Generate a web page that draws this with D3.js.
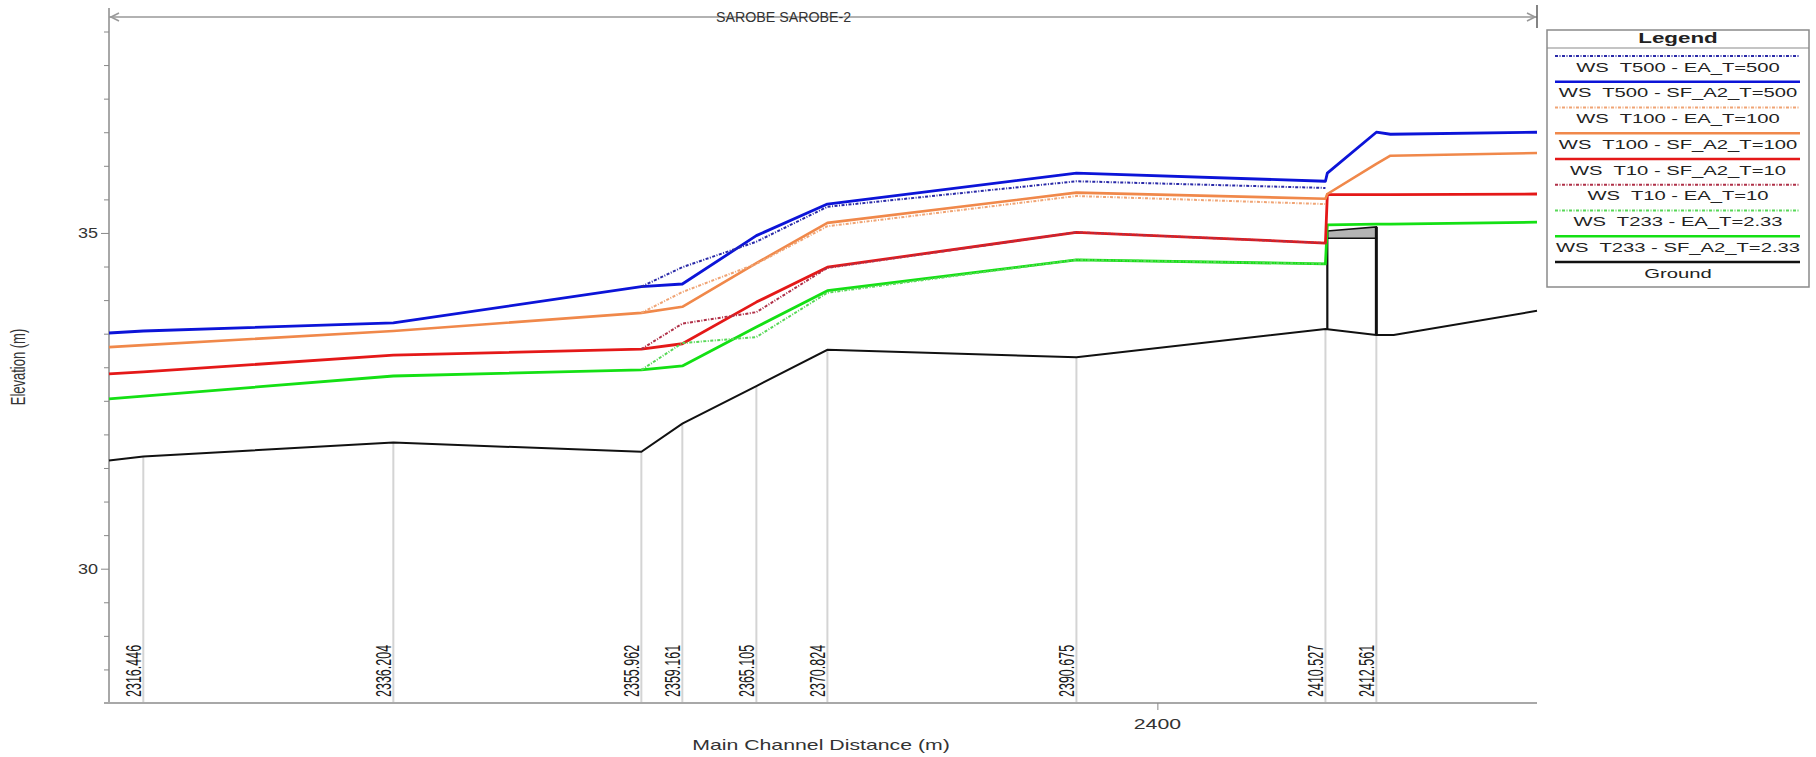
<!DOCTYPE html>
<html>
<head>
<meta charset="utf-8">
<script src="https://cdn.jsdelivr.net/npm/d3@7"></script>
<style>
  body { margin: 0; background: #fff; }
  text { font-family: "Liberation Sans", Arial, sans-serif; white-space: pre; }
</style>
</head>
<body>
<div id="chart"></div>
<script>
// ------------------------------------------------- Data -------------------------------------------------
// river station labels and their main channel distance (m)
const stationLabels = ["2316.446", "2336.204", "2355.962", "2359.161", "2365.105", "2370.824", "2390.675", "2410.527", "2412.561"];
const stationDist = [2319.33, 2339.22, 2358.95, 2362.21, 2368.10, 2373.75, 2393.56, 2413.37, 2417.42];

// ground profile
const groundDist = [2316.6, 2319.33, 2339.22, 2358.95, 2362.21, 2368.10, 2373.75, 2393.56, 2413.37, 2417.42, 2418.8, 2430.2];
const groundElev = [31.61, 31.67, 31.88, 31.74, 32.16, 32.72, 33.26, 33.15, 33.57, 33.48, 33.48, 33.84];

// proposed (SF_A2) water surfaces, full reach
const sfDist = [2316.6, 2319.33, 2339.22, 2358.95, 2362.21, 2368.10, 2373.75, 2393.56, 2413.37, 2413.52, 2417.42, 2418.54, 2430.2];
const sfT500 = [33.51, 33.54, 33.66, 34.20, 34.24, 34.96, 35.43, 35.89, 35.77, 35.89, 36.50, 36.47, 36.50];
const sfT100 = [33.30, 33.33, 33.54, 33.81, 33.90, 34.55, 35.15, 35.60, 35.51, 35.58, 36.03, 36.15, 36.19];
const sfT10  = [32.90, 32.93, 33.18, 33.27, 33.35, 33.97, 34.49, 35.01, 34.85, 35.57, 35.57, 35.57, 35.58];
const sfT233 = [32.53, 32.57, 32.87, 32.96, 33.02, 33.60, 34.14, 34.60, 34.54, 35.12, 35.13, 35.13, 35.16];

// existing (EA) water surfaces, where they differ
const eaDist = [2358.95, 2362.21, 2368.10, 2373.75, 2393.56, 2413.37];
const eaT500 = [34.20, 34.49, 34.87, 35.39, 35.77, 35.67];
const eaT100 = [33.81, 34.12, 34.54, 35.10, 35.55, 35.43];
const eaT10  = [33.27, 33.65, 33.82, 34.48, 35.01, 34.85];
const eaT233 = [32.96, 33.36, 33.45, 34.11, 34.60, 34.54];

// bridge deck
const deckDist = [2413.52, 2417.42];
const deckHigh = [35.03, 35.09];
const deckLow = [34.92, 34.92];

const yTickLabels = [30, 35];
const xTickLabels = [2400];

// ------------------------------------------------- Setup -------------------------------------------------
const W = 1816, H = 757;
const SX = 1.52; // the exported picture is stretched sideways

const svg = d3.select("#chart").append("svg").attr("width", W).attr("height", H);

const x = d3.scaleLinear().domain([2316.6, 2430.2]).range([109, 1537]);
const y = d3.scaleLinear().domain([28, 38.35]).range([703, 8]);

function stretched(g, px, py, str, opts = {}) {
    const t = g.append("text")
        .attr("transform", `translate(${px},${py}) scale(${opts.sx || SX},1)` + (opts.rot ? ` rotate(${opts.rot})` : ""))
        .attr("text-anchor", opts.anchor || "start")
        .style("font-size", (opts.size || 13) + "px")
        .style("font-weight", opts.weight || "normal")
        .attr("fill", opts.fill || "#222")
        .text(str);
    return t;
}

const line = d3.line().x(d => x(d[0])).y(d => y(d[1]));
const zip = (a, b) => a.map((v, i) => [v, b[i]]);

// ------------------------------------------------- Station lines -------------------------------------------------
const gSt = svg.append("g");
stationDist.forEach((d, i) => {
    const gi = groundDist.indexOf(d);
    gSt.append("line")
        .attr("x1", x(d)).attr("x2", x(d))
        .attr("y1", y(groundElev[gi])).attr("y2", y(28))
        .attr("stroke", "#d4d4d4").attr("stroke-width", 2);
    stretched(gSt, x(d) - 2, 697, stationLabels[i], { rot: -90, size: 12.5, sx: 1.72, fill: "#1a1a1a" });
});

// ------------------------------------------------- Axes -------------------------------------------------
const minorTicks = d3.range(28, 38.01, 0.5);
svg.append("g")
    .attr("transform", "translate(109,0)")
    .call(d3.axisLeft(y).tickValues(minorTicks).tickFormat("").tickSizeOuter(0)
        .tickSize(5))
    .call(g => g.select(".domain").attr("stroke", "#a8a8a8").attr("stroke-width", 2)
        .attr("d", `M0,${y(38.35)}V${y(28)}`))
    .call(g => g.selectAll(".tick line").attr("stroke", "#888")
        .attr("x2", d => yTickLabels.includes(d) ? -8 : -5));

yTickLabels.forEach(v => stretched(svg, 98, y(v) + 5, String(v), { anchor: "end", size: 15, sx: 1.2, fill: "#333" }));

svg.append("g")
    .attr("transform", "translate(0,703)")
    .call(d3.axisBottom(x).tickValues(xTickLabels).tickFormat("").tickSize(7).tickSizeOuter(0))
    .call(g => g.select(".domain").attr("stroke", "#a8a8a8").attr("stroke-width", 2)
        .attr("d", `M104,0H${x(2430.2)}`))
    .call(g => g.selectAll(".tick line").attr("stroke", "#888"));

xTickLabels.forEach(v => stretched(svg, x(v), 729, String(v), { anchor: "middle", size: 14, fill: "#333" }));

stretched(svg, (109 + 1537) / 2 - 2, 750, "Main Channel Distance (m)", { anchor: "middle", size: 14, fill: "#333" });
stretched(svg, 25, 367, "Elevation (m)", { anchor: "middle", size: 13, sx: 1.6, fill: "#333", rot: -90 });

// reach arrow along the top
const topY = 17;
const gTop = svg.append("g").attr("stroke", "#999").attr("fill", "none").attr("stroke-width", 1.6);
gTop.append("line").attr("x1", 109).attr("x2", 1537).attr("y1", topY).attr("y2", topY);
gTop.append("path").attr("d", `M119,${topY - 4}L111,${topY}L119,${topY + 4}`);
gTop.append("path").attr("d", `M1527,${topY - 4}L1535,${topY}L1527,${topY + 4}`);
gTop.append("line").attr("x1", 1537).attr("x2", 1537).attr("y1", 5).attr("y2", 28).attr("stroke", "#666");
stretched(svg, 716, topY + 5, "SAROBE SAROBE-2", { sx: 0.95, size: 15, fill: "#333" });

// ------------------------------------------------- Ground & bridge -------------------------------------------------
svg.append("path")
    .attr("d", line(zip(groundDist, groundElev)))
    .attr("fill", "none").attr("stroke", "#111").attr("stroke-width", 2);

const deckPts = zip(deckDist, deckHigh).concat(zip(deckDist, deckLow).reverse());
svg.append("path")
    .attr("d", line(deckPts) + "Z")
    .attr("fill", "#b4b4b4").attr("stroke", "#111").attr("stroke-width", 1.5);

const gL = groundElev[groundDist.indexOf(2413.37)];
const gR = groundElev[groundDist.indexOf(2417.42)];
svg.append("line")
    .attr("x1", x(deckDist[0])).attr("x2", x(deckDist[0]))
    .attr("y1", y(deckHigh[0])).attr("y2", y(gL))
    .attr("stroke", "#111").attr("stroke-width", 2.2);
svg.append("line")
    .attr("x1", x(deckDist[1])).attr("x2", x(deckDist[1]))
    .attr("y1", y(deckHigh[1])).attr("y2", y(gR))
    .attr("stroke", "#111").attr("stroke-width", 3);

// ------------------------------------------------- Water surfaces -------------------------------------------------
const series = [
    { name: "WS  T500 - EA_T=500",      dist: eaDist, elev: eaT500, color: "#2a2aa8", dash: "3,1.5,1,1.5", w: 2 },
    { name: "WS  T500 - SF_A2_T=500",   dist: sfDist, elev: sfT500, color: "#0c14d8", dash: null, w: 2.8 },
    { name: "WS  T100 - EA_T=100",      dist: eaDist, elev: eaT100, color: "#f0a474", dash: "3,1.5,1,1.5", w: 2 },
    { name: "WS  T100 - SF_A2_T=100",   dist: sfDist, elev: sfT100, color: "#f0884a", dash: null, w: 2.6 },
    { name: "WS  T10 - SF_A2_T=10",     dist: sfDist, elev: sfT10,  color: "#e41818", dash: null, w: 2.8 },
    { name: "WS  T10 - EA_T=10",        dist: eaDist, elev: eaT10,  color: "#b03048", dash: "3,1.5,1,1.5", w: 2 },
    { name: "WS  T233 - EA_T=2.33",     dist: eaDist, elev: eaT233, color: "#58d858", dash: "3,1.5,1,1.5", w: 2 },
    { name: "WS  T233 - SF_A2_T=2.33",  dist: sfDist, elev: sfT233, color: "#14e014", dash: null, w: 2.8 },
    { name: "Ground",                   dist: null,   elev: null,   color: "#111",    dash: null, w: 2 }
];

const drawOrder = [7, 4, 3, 1, 6, 5, 2, 0];
drawOrder.forEach(i => {
    const s = series[i];
    svg.append("path")
        .attr("d", line(zip(s.dist, s.elev)))
        .attr("fill", "none")
        .attr("stroke", s.color)
        .attr("stroke-width", s.w)
        .attr("stroke-dasharray", s.dash)
        .attr("stroke-linejoin", "round");
});

// ------------------------------------------------- Legend -------------------------------------------------
const lg = svg.append("g");
lg.append("rect").attr("x", 1547).attr("y", 30).attr("width", 262).attr("height", 257)
    .attr("fill", "#fff").attr("stroke", "#8a8a8a").attr("stroke-width", 1.5);
lg.append("line").attr("x1", 1547).attr("x2", 1809).attr("y1", 48).attr("y2", 48)
    .attr("stroke", "#8a8a8a").attr("stroke-width", 1.2);
stretched(lg, 1678, 43, "Legend", { anchor: "middle", size: 14, weight: "bold", sx: 1.6, fill: "#222" });

series.forEach((s, i) => {
    const ly = 56 + i * 25.75;
    lg.append("line")
        .attr("x1", 1555).attr("x2", 1800).attr("y1", ly).attr("y2", ly)
        .attr("stroke", s.color)
        .attr("stroke-width", s.dash ? 1.8 : 2.6)
        .attr("stroke-dasharray", s.dash);
    stretched(lg, 1678, ly + 15.5, s.name, { anchor: "middle", size: 13.3, fill: "#222" });
});
</script>
</body>
</html>
